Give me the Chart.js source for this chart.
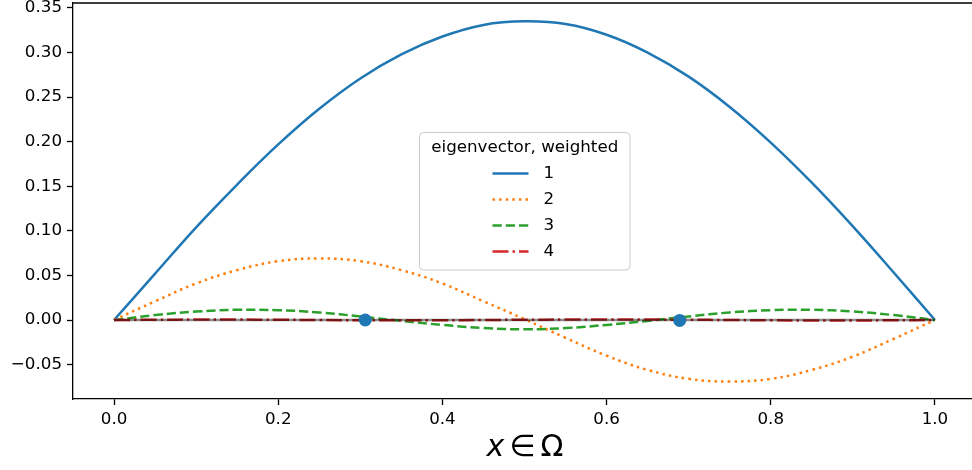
<!DOCTYPE html>
<html>
<head>
<meta charset="utf-8">
<script src="https://cdn.jsdelivr.net/npm/chart.js@4/dist/chart.umd.min.js"></script>
<style>
  html, body { margin: 0; padding: 0; background: #fff; overflow: hidden; }
  #wrap { width: 976px; height: 470px; }
</style>
</head>
<body>
<div id="wrap"><canvas id="c" width="976" height="470"></canvas></div>
<script>
// sample positions along x
const xs = [0, 0.05, 0.1, 0.15, 0.2, 0.25, 0.3, 0.35, 0.4, 0.45, 0.5,
            0.55, 0.6, 0.65, 0.7, 0.75, 0.8, 0.85, 0.9, 0.95, 1];

const ev1 = [0, 0.052, 0.104, 0.152, 0.197, 0.237, 0.271, 0.298, 0.318, 0.331, 0.335,
             0.332, 0.320, 0.300, 0.273, 0.239, 0.199, 0.154, 0.105, 0.053, 0];
const ev2 = [0, 0.021, 0.041, 0.056, 0.066, 0.069, 0.066, 0.056, 0.041, 0.021, 0.001,
             -0.020, -0.040, -0.056, -0.066, -0.069, -0.066, -0.056, -0.041, -0.021, 0];
const ev3 = [0, 0.0055, 0.0095, 0.0115, 0.011, 0.0085, 0.004, -0.001, -0.0055, -0.009, -0.0105,
             -0.009, -0.0055, -0.001, 0.004, 0.0085, 0.011, 0.0115, 0.0095, 0.0055, 0];
const ev4 = [0, 0.0003, 0.0005, 0.0005, 0.0003, 0, -0.0003, -0.0004, -0.0003, 0, 0.0003,
             0.0005, 0.0006, 0.0005, 0.0003, 0, -0.0003, -0.0005, -0.0005, -0.0003, 0];
const zeroLine = [0, 0];
const zeroX = [0, 1];

const dotX = [0.306, 0.689];
const dotY = [0, -0.0005];

const seriesLabels = ['1', '2', '3', '4'];
const legendTitle = 'eigenvector, weighted';

const xTicks = [0, 0.2, 0.4, 0.6, 0.8, 1.0];
const xTickLabels = ['0.0', '0.2', '0.4', '0.6', '0.8', '1.0'];
const yTicks = [-0.05, 0, 0.05, 0.1, 0.15, 0.2, 0.25, 0.3, 0.35];
const yTickLabels = ['\u22120.05', '0.00', '0.05', '0.10', '0.15', '0.20', '0.25', '0.30', '0.35'];

const pts = (xv, yv) => xv.map((x, i) => ({ x: x, y: yv[i] }));

const FONT = 'DejaVu Sans';
const TICKFONT = { family: FONT, size: 16.7 };

// matplotlib-ish frame: top and right spines
const framePlugin = {
  id: 'frame',
  afterDraw(chart) {
    const { ctx, chartArea: a } = chart;
    ctx.save();
    ctx.strokeStyle = '#000';
    ctx.lineWidth = 1.3;
    ctx.beginPath();
    ctx.moveTo(a.left, a.top);
    ctx.lineTo(a.right, a.top);
    ctx.lineTo(a.right, a.bottom);
    ctx.stroke();
    ctx.restore();
  }
};

// x label with italic x, like mathtext
const xLabelPlugin = {
  id: 'xlabel',
  afterDraw(chart) {
    const { ctx, chartArea: a } = chart;
    const y = a.bottom + 49;
    const size = 30;
    ctx.save();
    ctx.fillStyle = '#000';
    ctx.textBaseline = 'middle';
    ctx.font = 'italic ' + size + 'px "' + FONT + '"';
    const w1 = ctx.measureText('x').width;
    ctx.font = size + 'px "' + FONT + '"';
    const w2 = ctx.measureText('\u2208').width;
    const w3 = ctx.measureText('\u03A9').width;
    const gap = 5;
    const total = w1 + gap + w2 + gap + w3;
    const x0 = 525 - total / 2;
    ctx.font = 'italic ' + size + 'px "' + FONT + '"';
    ctx.fillText('x', x0, y);
    ctx.font = size + 'px "' + FONT + '"';
    ctx.fillText('\u2208', x0 + w1 + gap, y);
    ctx.fillText('\u03A9', x0 + w1 + gap + w2 + gap, y);
    ctx.restore();
  }
};

// legend box in the middle of the plot
const legendPlugin = {
  id: 'midLegend',
  afterDatasetsDraw(chart) {
    const { ctx } = chart;
    const bx = 419.5, by = 132.5, bw = 210.5, bh = 137.5, r = 4;
    ctx.save();
    ctx.beginPath();
    ctx.roundRect(bx, by, bw, bh, r);
    ctx.fillStyle = 'rgba(255,255,255,0.8)';
    ctx.fill();
    ctx.strokeStyle = '#cccccc';
    ctx.lineWidth = 1;
    ctx.stroke();

    ctx.fillStyle = '#000';
    ctx.font = '16.7px "' + FONT + '"';
    ctx.textBaseline = 'middle';
    ctx.textAlign = 'center';
    ctx.fillText(legendTitle, bx + bw / 2, by + 15.5);

    ctx.textAlign = 'left';
    chart.data.datasets.filter(d => d.inLegend).forEach((d, i) => {
      const y = by + 41 + i * 26;
      ctx.beginPath();
      ctx.setLineDash(d.borderDash || []);
      ctx.strokeStyle = d.borderColor;
      ctx.lineWidth = d.borderWidth;
      ctx.moveTo(bx + 73, y);
      ctx.lineTo(bx + 109, y);
      ctx.stroke();
      ctx.setLineDash([]);
      ctx.fillText(d.label, bx + 124, y);
    });
    ctx.restore();
  }
};

const noPad = s => { s.paddingTop = 0; s.paddingBottom = 0; s.paddingLeft = 0; s.paddingRight = 0; };

const lineDefaults = { type: 'line', pointRadius: 0, borderWidth: 2.5, tension: 0.4, fill: false, inLegend: true };

new Chart(document.getElementById('c'), {
  data: {
    datasets: [
      { type: 'scatter', label: 'dots', data: pts(dotX, dotY), pointRadius: 6.5, pointHoverRadius: 6.5,
        backgroundColor: '#1f77b4', borderWidth: 0, order: 0 },
      { type: 'line', label: 'zero', data: pts(zeroX, zeroLine), pointRadius: 0, borderWidth: 2.5,
        borderColor: 'rgba(0,0,0,0.45)', order: 1 },
      { ...lineDefaults, label: seriesLabels[0], data: pts(xs, ev1), borderColor: '#1f77b4', order: 5 },
      { ...lineDefaults, label: seriesLabels[1], data: pts(xs, ev2), borderColor: '#ff7f0e',
        borderDash: [2.5, 4.1], order: 4 },
      { ...lineDefaults, label: seriesLabels[2], data: pts(xs, ev3), borderColor: '#2ca02c',
        borderDash: [9.25, 4], order: 3 },
      { ...lineDefaults, label: seriesLabels[3], data: pts(xs, ev4), borderColor: '#d62728',
        borderDash: [16, 4, 2.5, 4], order: 2 }
    ]
  },
  options: {
    responsive: false,
    animation: false,
    devicePixelRatio: 1,
    layout: { autoPadding: false, padding: { top: 3, right: 0, bottom: 0, left: 0 } },
    plugins: { legend: { display: false }, tooltip: { enabled: false } },
    scales: {
      x: {
        type: 'linear',
        min: -0.05,
        max: 1.05,
        afterFit: s => { s.height = 71; noPad(s); },
        afterBuildTicks: s => { s.ticks = xTicks.map(v => ({ value: v })); },
        grid: { drawOnChartArea: false, drawTicks: true, tickLength: 6, tickWidth: 1.3, tickColor: '#000' },
        border: { display: true, color: '#000', width: 1.3 },
        ticks: {
          font: TICKFONT, color: '#000', padding: 5, maxRotation: 0, autoSkip: false,
          callback: (v, i) => xTickLabels[i]
        }
      },
      y: {
        type: 'linear',
        min: -0.0886,
        max: 0.3556,
        afterFit: s => { s.width = 73; noPad(s); },
        afterBuildTicks: s => { s.ticks = yTicks.map(v => ({ value: v })); },
        grid: { drawOnChartArea: false, drawTicks: true, tickLength: 6, tickWidth: 1.3, tickColor: '#000' },
        border: { display: true, color: '#000', width: 1.3 },
        ticks: {
          font: TICKFONT, color: '#000', padding: 5, autoSkip: false,
          callback: (v, i) => yTickLabels[i]
        }
      }
    }
  },
  plugins: [framePlugin, xLabelPlugin, legendPlugin]
});
</script>
</body>
</html>
